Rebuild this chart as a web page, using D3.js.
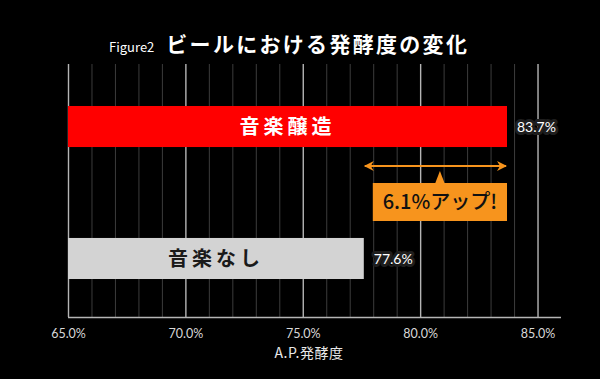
<!DOCTYPE html>
<html>
<head>
<meta charset="utf-8">
<script src="https://cdn.jsdelivr.net/npm/d3@7"></script>
<style>
  html, body { margin: 0; padding: 0; background: #000; }
  svg { display: block; font-family: "Noto Sans CJK JP", "Noto Sans", sans-serif; }
</style>
</head>
<body>
<svg id="chart" width="600" height="379"></svg>
<script>
// Data
const categories = ['音楽醸造', '音楽なし'];
const values = [83.7, 77.6];
const barColors = ['#ff0000', '#d3d3d3'];
const labelColors = ['#ffffff', '#1a1a1a'];
const tickValues = [65, 70, 75, 80, 85];
const gainLabel = '6.1%アップ!';

const width = 600, height = 379;
const margin = { top: 64, left: 68, right: 39, bottom: 62 };

const svg = d3.select('#chart');

svg.append('rect').attr('width', width).attr('height', height).attr('fill', '#000');

// Title
const title = svg.append('text')
    .attr('x', 109)
    .attr('y', 52)
    .attr('fill', '#fff');
title.append('tspan')
    .attr('font-size', 13)
    .text('Figure2');
title.append('tspan')
    .attr('dx', 12)
    .attr('font-size', 21)
    .attr('font-weight', 700)
    .attr('letter-spacing', 2.3)
    .text('ビールにおける発酵度の変化');

// Scales
const x = d3.scaleLinear()
    .domain([65, 86])
    .range([margin.left, width - margin.right]);

const y = d3.scaleBand()
    .domain(categories)
    .range([66.4, 318.6])
    .paddingInner(0.689)
    .paddingOuter(0.3);

// Grid (1% minor, 5% major)
const grid = svg.append('g');
grid.selectAll('line')
    .data(d3.range(65, 86, 1))
    .join('line')
    .attr('x1', d => x(d) + 0.5)
    .attr('x2', d => x(d) + 0.5)
    .attr('y1', margin.top)
    .attr('y2', height - margin.bottom)
    .attr('stroke', d => d % 5 === 0 ? '#b5b5b5' : '#3c3c3c')
    .attr('stroke-width', d => d % 5 === 0 ? 1.4 : 1);

// Axis line
svg.append('line')
    .attr('x1', x(65))
    .attr('x2', x(86))
    .attr('y1', height - margin.bottom + 0.5)
    .attr('y2', height - margin.bottom + 0.5)
    .attr('stroke', '#b5b5b5')
    .attr('stroke-width', 1.4);

// Tick labels via d3 axis
const axis = svg.append('g')
    .attr('transform', `translate(0,${height - margin.bottom})`)
    .call(d3.axisBottom(x)
        .tickValues(tickValues)
        .tickSize(0)
        .tickPadding(12)
        .tickFormat(d => d.toFixed(1) + '%'));
axis.select('.domain').remove();
axis.selectAll('text')
    .attr('fill', '#d8d8d8')
    .attr('font-size', 12.5)
    .attr('font-family', 'Lato, "Noto Sans", sans-serif');

// Axis title
svg.append('text')
    .attr('x', 309)
    .attr('y', 358)
    .attr('text-anchor', 'middle')
    .attr('fill', '#e8e8e8')
    .attr('font-size', 14)
    .attr('letter-spacing', 0.5)
    .text('A.P.発酵度');

// Bars
const bars = svg.append('g');
bars.selectAll('rect')
    .data(values)
    .join('rect')
    .attr('x', x(65))
    .attr('y', (d, i) => y(categories[i]))
    .attr('width', d => x(d) - x(65))
    .attr('height', y.bandwidth())
    .attr('fill', (d, i) => barColors[i]);

// Category labels inside bars
bars.selectAll('text.cat')
    .data(values)
    .join('text')
    .attr('class', 'cat')
    .attr('x', d => (x(65) + x(d)) / 2)
    .attr('y', (d, i) => y(categories[i]) + y.bandwidth() / 2)
    .attr('dy', '0.36em')
    .attr('text-anchor', 'middle')
    .attr('fill', (d, i) => labelColors[i])
    .attr('font-size', 20)
    .attr('font-weight', 700)
    .attr('letter-spacing', 4)
    .text((d, i) => categories[i]);

// Value labels with dark halo
bars.selectAll('text.val')
    .data(values)
    .join('text')
    .attr('class', 'val')
    .attr('x', d => x(d) + 10)
    .attr('y', (d, i) => y(categories[i]) + y.bandwidth() / 2)
    .attr('dy', '0.36em')
    .attr('fill', '#fff')
    .attr('stroke', '#1e1e1e')
    .attr('stroke-width', 6)
    .attr('stroke-linejoin', 'round')
    .attr('paint-order', 'stroke')
    .attr('font-size', 14)
    .attr('font-family', 'Lato, "Noto Sans", sans-serif')
    .text(d => d.toFixed(1) + '%');

// Difference annotation
const orange = '#f7941d';
const lo = d3.min(values), hi = d3.max(values);
const arrowY = 166;

const defs = svg.append('defs');
defs.append('marker')
    .attr('id', 'arrowhead')
    .attr('viewBox', '0 -5 10 10')
    .attr('refX', 9)
    .attr('refY', 0)
    .attr('markerWidth', 5)
    .attr('markerHeight', 5)
    .attr('orient', 'auto-start-reverse')
    .append('path')
    .attr('d', 'M0,-5L10,0L0,5L3,0Z')
    .attr('fill', orange);

svg.append('line')
    .attr('x1', x(lo) + 1)
    .attr('x2', x(hi) - 1)
    .attr('y1', arrowY)
    .attr('y2', arrowY)
    .attr('stroke', orange)
    .attr('stroke-width', 2)
    .attr('marker-start', 'url(#arrowhead)')
    .attr('marker-end', 'url(#arrowhead)');

const boxL = x(lo) + 9, boxR = x(hi);
const boxT = 183, boxB = 221;
const cx = (boxL + boxR) / 2;

svg.append('path')
    .attr('d', `M${cx - 5},${boxT + 1}L${cx},${arrowY + 5}L${cx + 5},${boxT + 1}Z`)
    .attr('fill', orange);

svg.append('rect')
    .attr('x', boxL)
    .attr('y', boxT)
    .attr('width', boxR - boxL)
    .attr('height', boxB - boxT)
    .attr('fill', orange);

svg.append('text')
    .attr('x', cx)
    .attr('y', (boxT + boxB) / 2)
    .attr('dy', '0.36em')
    .attr('text-anchor', 'middle')
    .attr('fill', '#111')
    .attr('font-size', 20)
    .attr('font-weight', 500)
    .text(gainLabel);
</script>
</body>
</html>
